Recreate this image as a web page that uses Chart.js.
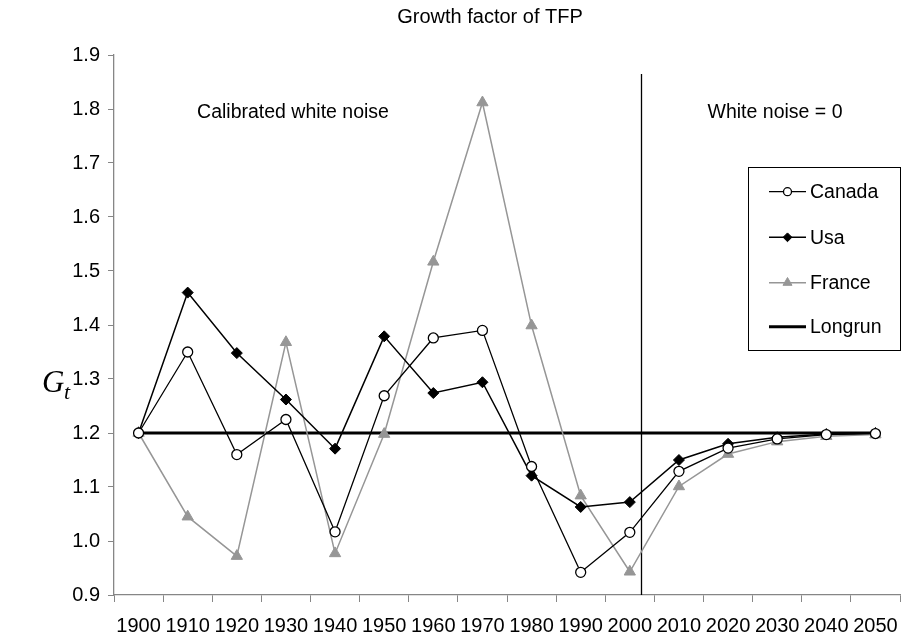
<!DOCTYPE html>
<html>
<head>
<meta charset="utf-8">
<script src="https://cdn.jsdelivr.net/npm/chart.js@4/dist/chart.umd.min.js"></script>
<style>
    html, body { margin: 0; padding: 0; background: #fff; }
    #wrap { width: 903px; height: 638px; }
</style>
</head>
<body>
<div id="wrap"><canvas id="tfp" width="903" height="638"></canvas></div>
<script>
// Datos
const years = ['1900', '1910', '1920', '1930', '1940', '1950', '1960', '1970',
               '1980', '1990', '2000', '2010', '2020', '2030', '2040', '2050'];
const canada = [1.200, 1.350, 1.160, 1.225, 1.017, 1.269, 1.376, 1.390,
                1.138, 0.942, 1.016, 1.129, 1.172, 1.189, 1.197, 1.199];
const usa = [1.200, 1.460, 1.348, 1.262, 1.171, 1.379, 1.274, 1.294,
             1.121, 1.063, 1.072, 1.150, 1.180, 1.192, 1.198, 1.200];
const france = [1.200, 1.045, 0.972, 1.368, 0.977, 1.198, 1.517, 1.812,
                1.399, 1.084, 0.943, 1.101, 1.161, 1.184, 1.194, 1.197];
const longrun = [1.2, 1.2, 1.2, 1.2, 1.2, 1.2, 1.2, 1.2,
                 1.2, 1.2, 1.2, 1.2, 1.2, 1.2, 1.2, 1.2];
const yMin = 0.9;
const yMax = 1.9;
const yStep = 0.1;

// Separacion entre periodo calibrado y periodo sin ruido
const dividerAt = 10.23;      // indice de categoria
const dividerTop = 1.865;     // valor en el eje y

const GRAY = '#969696';
const AXIS = '#868686';
const FONT = '"Liberation Sans", Arial, sans-serif';

Chart.defaults.font.family = FONT;
Chart.defaults.color = '#000';

/**
 * Textos, linea vertical y leyenda dibujados sobre el canvas
 */
const extras = {
    id: 'extras',
    beforeDatasetsDraw(chart) {
        const { ctx, scales: { x, y } } = chart;
        const step = x.getPixelForValue(11) - x.getPixelForValue(10);
        const xd = Math.round(x.getPixelForValue(10) + (dividerAt - 10) * step) + 0.5;
        ctx.save();
        ctx.strokeStyle = '#000';
        ctx.lineWidth = 1.3;
        ctx.beginPath();
        ctx.moveTo(xd, y.getPixelForValue(dividerTop));
        ctx.lineTo(xd, y.getPixelForValue(yMin));
        ctx.stroke();
        ctx.restore();
    },
    afterDraw(chart) {
        const { ctx } = chart;
        ctx.save();
        ctx.fillStyle = '#000';
        ctx.textBaseline = 'middle';
        ctx.textAlign = 'center';
        ctx.font = '20px ' + FONT;
        ctx.fillText('Growth factor of TFP', 490, 17);
        ctx.font = '19.5px ' + FONT;
        ctx.fillText('Calibrated white noise', 293, 113);
        ctx.fillText('White noise = 0', 775, 113);

        // Etiqueta del eje y: G_t
        ctx.textAlign = 'left';
        ctx.textBaseline = 'alphabetic';
        ctx.font = 'italic 31px "Liberation Serif", "Times New Roman", serif';
        ctx.fillText('G', 42, 392);
        ctx.font = 'italic 22px "Liberation Serif", "Times New Roman", serif';
        ctx.fillText('t', 64, 399);

        // Leyenda
        ctx.strokeStyle = '#000';
        ctx.lineWidth = 1;
        ctx.strokeRect(748.5, 167.5, 152, 183);
        const rows = [191.7, 237.3, 282.7, 326.7];
        chart.data.datasets.forEach((ds, i) => {
            const ly = rows[i];
            ctx.strokeStyle = ds.borderColor;
            ctx.lineWidth = ds.borderWidth;
            ctx.beginPath();
            ctx.moveTo(769, ly);
            ctx.lineTo(806, ly);
            ctx.stroke();
            if (ds.pointRadius > 0) {
                ctx.fillStyle = ds.pointBackgroundColor;
                ctx.strokeStyle = ds.pointBorderColor;
                ctx.lineWidth = ds.pointBorderWidth;
                Chart.helpers.drawPoint(ctx, {
                    pointStyle: ds.pointStyle,
                    radius: ds.pointRadius * 0.8,
                    borderWidth: ds.pointBorderWidth,
                    rotation: 0
                }, 787.5, ly);
            }
            ctx.fillStyle = '#000';
            ctx.textBaseline = 'middle';
            ctx.font = '19.5px ' + FONT;
            ctx.fillText(ds.label, 810, ly + 1);
        });
        ctx.restore();
    }
};

new Chart(document.getElementById('tfp').getContext('2d'), {
    type: 'line',
    data: {
        labels: years,
        datasets: [
            {
                label: 'Canada',
                data: canada,
                borderColor: '#000',
                borderWidth: 1.3,
                pointStyle: 'circle',
                pointRadius: 5,
                pointBackgroundColor: '#fff',
                pointBorderColor: '#000',
                pointBorderWidth: 1.3
            },
            {
                label: 'Usa',
                data: usa,
                borderColor: '#000',
                borderWidth: 1.5,
                pointStyle: 'rectRot',
                pointRadius: 5.5,
                pointBackgroundColor: '#000',
                pointBorderColor: '#000',
                pointBorderWidth: 1
            },
            {
                label: 'France',
                data: france,
                borderColor: GRAY,
                borderWidth: 1.5,
                pointStyle: 'triangle',
                pointRadius: 6.5,
                pointBackgroundColor: GRAY,
                pointBorderColor: GRAY,
                pointBorderWidth: 1
            },
            {
                label: 'Longrun',
                data: longrun,
                borderColor: '#000',
                borderWidth: 3,
                pointRadius: 0,
                pointBorderWidth: 0
            }
        ]
    },
    options: {
        responsive: false,
        animation: false,
        elements: { line: { tension: 0 } },
        layout: {
            autoPadding: false,
            padding: { top: 55, right: 3, bottom: 0, left: 0 }
        },
        plugins: {
            legend: { display: false },
            tooltip: { enabled: false },
            title: { display: false }
        },
        scales: {
            x: {
                offset: true,
                afterFit(scale) {
                    scale.height = 43;
                    scale.paddingLeft = 0;
                    scale.paddingRight = 0;
                },
                grid: {
                    offset: true,
                    drawOnChartArea: false,
                    drawTicks: true,
                    tickLength: 7,
                    color: AXIS
                },
                border: { color: AXIS, width: 1.3 },
                ticks: {
                    font: { size: 20 },
                    color: '#000',
                    padding: 12,
                    maxRotation: 0,
                    autoSkip: false
                }
            },
            y: {
                min: yMin,
                max: yMax,
                afterFit(scale) { scale.width = 114; },
                grid: {
                    drawOnChartArea: false,
                    drawTicks: true,
                    tickLength: 6,
                    color: AXIS
                },
                border: { color: AXIS, width: 1.3 },
                ticks: {
                    stepSize: yStep,
                    font: { size: 20 },
                    color: '#000',
                    padding: 8,
                    callback: v => v.toFixed(1)
                }
            }
        }
    },
    plugins: [extras]
});
</script>
</body>
</html>
